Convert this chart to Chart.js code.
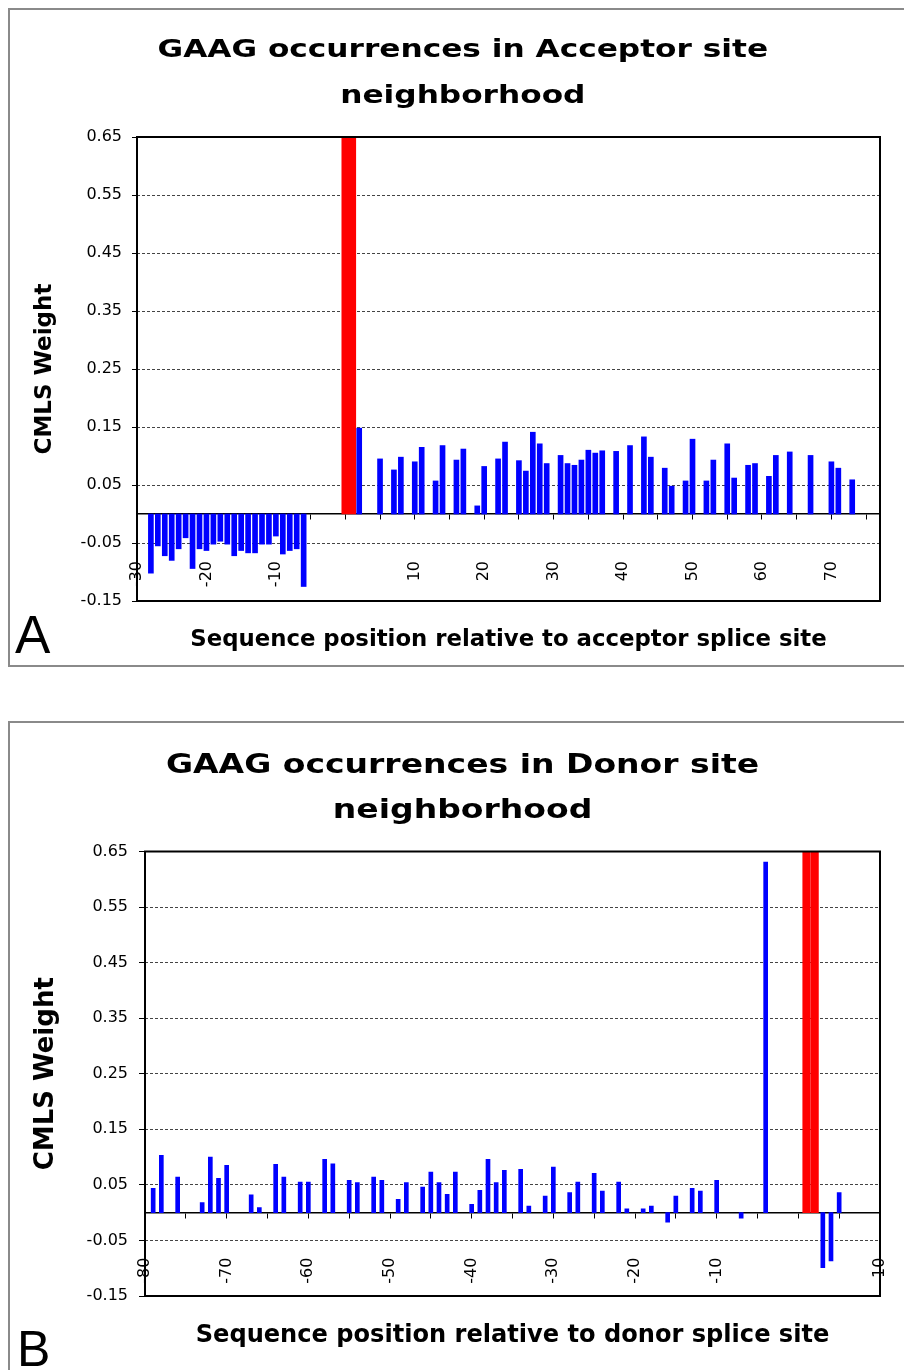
<!DOCTYPE html>
<html><head><meta charset="utf-8">
<script src="https://cdn.jsdelivr.net/npm/chart.js@4.4.1/dist/chart.umd.min.js"></script>
<style>
html,body{margin:0;padding:0;background:#fff;}
body{width:904px;height:1370px;position:relative;overflow:hidden;}
.frame{position:absolute;border:2px solid #8a8a8a;box-sizing:border-box;}
canvas{position:absolute;left:0;}
.ttl{position:absolute;left:8px;width:910px;text-align:center;font-family:'DejaVu Sans';font-weight:bold;color:#000;white-space:nowrap;}
.ttl span{display:inline-block;transform-origin:50% 50%;}
.lbl{position:absolute;font-family:'Liberation Sans',Arial,sans-serif;color:#000;line-height:1;}
</style></head><body>
<div class="frame" style="left:8px;top:8px;width:920px;height:659px"></div>
<div class="frame" style="left:8px;top:721px;width:920px;height:700px"></div>
<canvas id="cA" width="904" height="685" style="top:0"></canvas>
<canvas id="cB" width="904" height="685" style="top:685px"></canvas>
<div class="ttl" style="top:25.7px;font-size:24px;line-height:46px"><span style="transform:scaleX(1.3)">GAAG occurrences in Acceptor site<br>neighborhood</span></div>
<div class="ttl" style="top:742px;font-size:26px;line-height:45px"><span style="transform:scaleX(1.27)">GAAG occurrences in Donor site<br>neighborhood</span></div>
<div class="lbl" style="left:15px;top:608px;font-size:53px">A</div>
<div class="lbl" style="left:17px;top:1324px;font-size:50px">B</div>
<script>
// ---- Panel A: acceptor site ----
const acceptorPositions = [-28,-27,-26,-25,-24,-23,-22,-21,-20,-19,-18,-17,-16,-15,-14,-13,-12,-11,-10,-9,-8,-7,-6,
  2,5,7,8,10,11,13,14,16,17,19,20,22,23,25,26,27,28,29,31,32,33,34,35,36,37,39,41,43,44,46,47,49,50,52,53,55,56,58,59,61,62,64,67,70,71,73];
const acceptorWeights = [-0.102,-0.055,-0.072,-0.080,-0.060,-0.041,-0.094,-0.060,-0.063,-0.052,-0.047,-0.052,-0.072,-0.063,-0.067,-0.067,-0.052,-0.052,-0.038,-0.069,-0.063,-0.060,-0.125,
  0.148,0.095,0.076,0.098,0.090,0.115,0.057,0.118,0.093,0.112,0.014,0.082,0.095,0.124,0.092,0.074,0.141,0.121,0.087,0.101,0.087,0.084,0.093,0.110,0.105,0.109,0.108,0.118,0.133,0.098,0.079,0.048,0.057,0.129,0.057,0.093,0.121,0.062,0.084,0.087,0.065,0.101,0.107,0.101,0.090,0.079,0.059];
const acceptorSitePositions = [0, 1];
const acceptorSiteWeights = [0.65, 0.65];
const acceptorXRange = [-30, 77];
const acceptorXTicks = [-30,-25,-20,-15,-10,-5,0,5,10,15,20,25,30,35,40,45,50,55,60,65,70,75];
const acceptorXLabels = [-30,-20,-10,10,20,30,40,50,60,70];

// ---- Panel B: donor site ----
const donorPositions = [-79,-78,-76,-73,-72,-71,-70,-67,-66,-64,-63,-61,-60,-58,-57,-55,-54,-52,-51,-49,-48,-46,-45,-44,-43,-42,-40,-39,-38,-37,-36,-34,-33,-31,-30,-28,-27,-25,-24,-22,-21,-19,-18,-16,-15,-13,-12,-10,-7,-4,3,4,5];
const donorWeights = [0.044,0.103,0.064,0.018,0.100,0.062,0.085,0.032,0.009,0.087,0.064,0.055,0.055,0.096,0.088,0.058,0.054,0.064,0.058,0.024,0.054,0.046,0.073,0.054,0.033,0.073,0.015,0.040,0.096,0.054,0.076,0.078,0.012,0.030,0.082,0.036,0.055,0.071,0.039,0.055,0.007,0.007,0.012,-0.017,0.030,0.044,0.039,0.058,-0.010,0.631,-0.099,-0.087,0.036];
const donorSitePositions = [1, 2];
const donorSiteWeights = [0.65, 0.65];
const donorXRange = [-80, 10];
const donorXTicks = [-80,-75,-70,-65,-60,-55,-50,-45,-40,-35,-30,-25,-20,-15,-10,-5,0,5,10];
const donorXLabels = [-80,-70,-60,-50,-40,-30,-20,-10,10];

// ---- shared value axis ----
const yRange = [-0.15, 0.65];
const yTicks = [-0.15,-0.05,0.05,0.15,0.25,0.35,0.45,0.55,0.65];
const yTitle = 'CMLS Weight';

const framePlugin = {
  id: 'plotFrame',
  afterDatasetsDraw(chart) {
    const {ctx, chartArea: a} = chart;
    ctx.save();
    ctx.strokeStyle = '#000';
    ctx.lineWidth = 2;
    ctx.strokeRect(a.left, a.top, a.right - a.left, a.bottom - a.top);
    ctx.restore();
  }
};

function pts(xs, ys) { return xs.map((x, i) => ({x: x, y: ys[i]})); }

function build(id, d, L) {
  return new Chart(document.getElementById(id), {
    type: 'bar',
    data: {
      datasets: [
        {data: pts(d.pos, d.w), backgroundColor: '#0000ff', barThickness: L.barW, grouped: false, order: 1, xAxisID: 'x', yAxisID: 'y'},
        {data: pts(d.sitePos, d.siteW), backgroundColor: '#ff0000', barThickness: L.siteW, grouped: false, order: 2, xAxisID: 'x', yAxisID: 'y'}
      ]
    },
    options: {
      responsive: false, animation: false, devicePixelRatio: 1,
      layout: {padding: {left: 0, top: L.top, right: L.right, bottom: 0}},
      plugins: {legend: {display: false}, tooltip: {enabled: false}, title: {display: false}},
      scales: {
        x: {
          type: 'linear', position: {y: 0}, min: d.xr[0], max: d.xr[1], offset: false,
          afterBuildTicks: s => { s.ticks = d.xTicks.map(v => ({value: v})); },
          afterFit: s => { s.paddingLeft = 0; s.paddingRight = 0; },
          ticks: {autoSkip: false, minRotation: 90, maxRotation: 90, padding: L.xPad, color: '#000',
            font: {family: 'DejaVu Sans', size: 16},
            callback: v => d.xLabels.includes(v) ? String(v) : ''},
          grid: {drawOnChartArea: false, drawTicks: true, tickLength: 5, color: '#000', tickColor: '#000', offset: false},
          border: {display: true, color: '#000', width: 1.5}
        },
        xb: {
          type: 'linear', position: 'bottom', min: d.xr[0], max: d.xr[1],
          afterFit: s => { s.height = L.xbH; s.paddingLeft = 0; s.paddingRight = 0; },
          ticks: {display: false}, grid: {display: false}, border: {display: false},
          title: {display: true, text: d.xTitle, color: '#000',
            font: {family: 'DejaVu Sans', weight: 'bold', size: L.xtSize}, padding: {top: 0, bottom: L.xtPad}}
        },
        y: {
          type: 'linear', position: 'left', min: yRange[0], max: yRange[1],
          afterBuildTicks: s => { s.ticks = yTicks.map(v => ({value: v})); },
          afterFit: s => { s.width = L.yW; },
          ticks: {padding: L.yPad, color: '#000', font: {family: 'DejaVu Sans', size: 16}, callback: v => Number(v).toFixed(2)},
          grid: {color: '#444', lineWidth: 1, tickLength: L.yTl, tickColor: '#000', tickBorderDash: [], borderDash: [3, 2], drawTicks: true},
          border: {display: false, dash: [3, 2]},
          title: {display: true, text: yTitle, color: '#000',
            font: {family: 'DejaVu Sans', weight: 'bold', size: L.ytSize}, padding: {top: L.ytPad, bottom: 0}}
        }
      }
    },
    plugins: [framePlugin]
  });
}

build('cA', {
  pos: acceptorPositions, w: acceptorWeights, sitePos: acceptorSitePositions, siteW: acceptorSiteWeights,
  xr: acceptorXRange, xTicks: acceptorXTicks, xLabels: acceptorXLabels,
  xTitle: 'Sequence position relative to acceptor splice site'
}, {top: 137, right: 24, yW: 137, xbH: 84, xtPad: 31, xtSize: 22.8, ytSize: 23, ytPad: 31, yPad: 10, yTl: 5, xPad: 42, barW: 5, siteW: 7});

build('cB', {
  pos: donorPositions, w: donorWeights, sitePos: donorSitePositions, siteW: donorSiteWeights,
  xr: donorXRange, xTicks: donorXTicks, xLabels: donorXLabels,
  xTitle: 'Sequence position relative to donor splice site'
}, {top: 166.5, right: 24, yW: 145, xbH: 74, xtPad: 20, xtSize: 24.1, ytSize: 26, ytPad: 31, yPad: 11, yTl: 6, xPad: 40, barW: 4, siteW: 7.5});
</script>
</body></html>
